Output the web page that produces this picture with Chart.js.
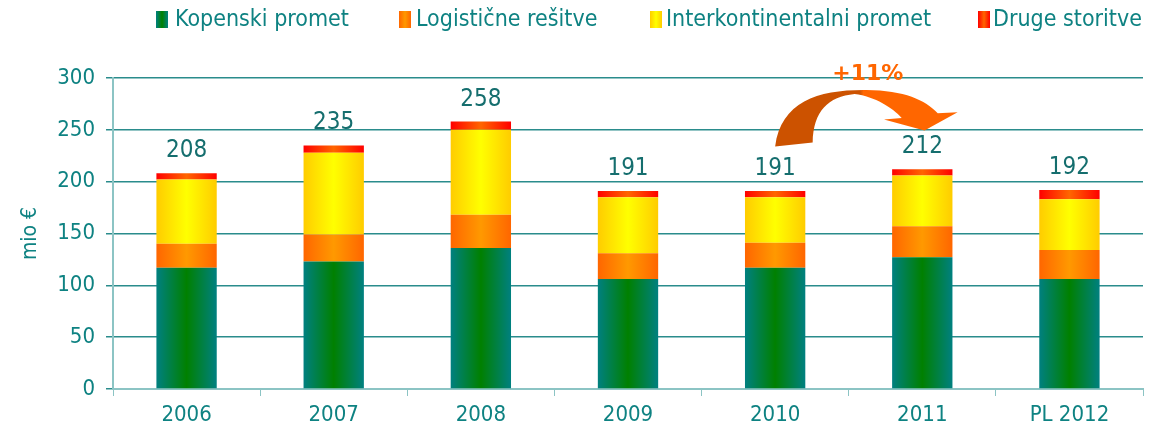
<!DOCTYPE html>
<html lang="sl">
<head>
<meta charset="UTF-8">
<title>Prihodki</title>
<script src="https://cdn.jsdelivr.net/npm/chart.js@4/dist/chart.umd.min.js"></script>
<style>
  html, body { margin: 0; padding: 0; background: #fff; }
  #wrap { width: 1164px; height: 436px; }
</style>
</head>
<body>
<div id="wrap"><canvas id="myChart" width="1164" height="436"></canvas></div>
<script>
// data (mio €)
const categories = ['2006', '2007', '2008', '2009', '2010', '2011', 'PL 2012'];
const kopenski = [117, 123, 136, 106, 117, 127, 106];
const logisticne = [23, 26, 32, 25, 24, 30, 28];
const interkontinentalni = [62, 79, 82, 54, 44, 49, 49];
const druge = [6, 7, 8, 6, 6, 6, 9];
const totals = [208, 235, 258, 191, 191, 212, 192];
const seriesNames = ['Kopenski promet', 'Logistične rešitve', 'Interkontinentalni promet', 'Druge storitve'];
const yTicks = [0, 50, 100, 150, 200, 250, 300];

const TEAL = '#0e8282';
const DARK_TEAL = '#156e6e';
const FONT = '"DejaVu Sans Condensed", "DejaVu Sans", sans-serif';
const BAR_FRAC = 0.41;

// edge / middle colours for the horizontal bar shading
const shades = [
    ['#008080', '#008000'],
    ['#ff6600', '#ff9900'],
    ['#ffcc00', '#ffff00'],
    ['#ff0000', '#ff6600'],
];

function barFill(i) {
    return function (ctx) {
        const chart = ctx.chart;
        const x = chart.scales.x;
        if (!x || !chart.chartArea) return shades[i][1];
        const c = x.getPixelForValue(ctx.dataIndex);
        const w = x.width / categories.length * BAR_FRAC;
        const g = chart.ctx.createLinearGradient(c - w / 2, 0, c + w / 2, 0);
        g.addColorStop(0, shades[i][0]);
        g.addColorStop(0.5, shades[i][1]);
        g.addColorStop(1, shades[i][0]);
        return g;
    };
}

const legendPlugin = {
    id: 'topLegend',
    afterDraw(chart) {
        const ctx = chart.ctx;
        const items = [
            { box: 156, text: 175 },
            { box: 399, text: 416 },
            { box: 650, text: 666 },
            { box: 978, text: 993 },
        ];
        ctx.save();
        ctx.font = '23px ' + FONT;
        ctx.textBaseline = 'middle';
        items.forEach((it, i) => {
            const g = ctx.createLinearGradient(it.box, 0, it.box + 12, 0);
            g.addColorStop(0, shades[i][0]);
            g.addColorStop(0.5, shades[i][1]);
            g.addColorStop(1, shades[i][0]);
            ctx.fillStyle = g;
            ctx.fillRect(it.box, 11, 12, 17);
            ctx.fillStyle = TEAL;
            ctx.fillText(seriesNames[i], it.text, 20);
        });
        ctx.restore();
    }
};

const totalsPlugin = {
    id: 'totals',
    afterDatasetsDraw(chart) {
        const ctx = chart.ctx;
        const x = chart.scales.x, y = chart.scales.y;
        ctx.save();
        ctx.font = '24px ' + FONT;
        ctx.fillStyle = DARK_TEAL;
        ctx.textAlign = 'center';
        ctx.textBaseline = 'alphabetic';
        totals.forEach((t, i) => {
            ctx.fillText(String(t), x.getPixelForValue(i), y.getPixelForValue(t) - 16);
        });
        ctx.restore();
    }
};

// curved "+11%" arrow from 2010 to 2011
const arrowPlugin = {
    id: 'growthArrow',
    afterDraw(chart) {
        const ctx = chart.ctx;
        const x = chart.scales.x, y = chart.scales.y;
        const cx = x.getPixelForValue(4);
        const dx = x.getPixelForValue(5) - cx;
        const P = (u, v) => [cx + u * dx, y.getPixelForValue(v)];
        ctx.save();
        const a = P(0, 0), b = P(1.25, 0);
        const g = ctx.createLinearGradient(a[0], 0, b[0], 0);
        g.addColorStop(0, '#cc5200');
        g.addColorStop(0.46, '#cc5200');
        g.addColorStop(0.48, '#ff6600');
        g.addColorStop(1, '#ff6600');
        ctx.fillStyle = g;
        ctx.beginPath();
        ctx.moveTo(...P(0, 233.9));
        ctx.bezierCurveTo(...P(0.04, 278), ...P(0.3, 289), ...P(0.62, 288.5));
        ctx.bezierCurveTo(...P(0.88, 288), ...P(1.02, 279), ...P(1.105, 266));
        ctx.lineTo(...P(1.24, 267));
        ctx.lineTo(...P(1.015, 249.3));
        ctx.lineTo(...P(0.74, 260));
        ctx.lineTo(...P(0.86, 261.5));
        ctx.bezierCurveTo(...P(0.8, 271), ...P(0.68, 282), ...P(0.54, 284.5));
        ctx.bezierCurveTo(...P(0.36, 282), ...P(0.26, 268), ...P(0.255, 237.7));
        ctx.closePath();
        ctx.fill();

        ctx.font = 'bold 22px "DejaVu Sans", sans-serif';
        ctx.fillStyle = '#ff6600';
        ctx.textAlign = 'center';
        ctx.textBaseline = 'alphabetic';
        ctx.fillText('+11%', ...P(0.63, 298.5));
        ctx.restore();
    }
};

const datasets = [kopenski, logisticne, interkontinentalni, druge].map((d, i) => ({
    label: seriesNames[i],
    data: d,
    backgroundColor: barFill(i),
    borderWidth: 0,
    barPercentage: BAR_FRAC,
    categoryPercentage: 1,
}));

new Chart(document.getElementById('myChart'), {
    type: 'bar',
    data: { labels: categories, datasets },
    plugins: [legendPlugin, totalsPlugin, arrowPlugin],
    options: {
        responsive: false,
        animation: false,
        layout: { padding: { top: 78, right: 21, left: 0, bottom: 0 } },
        plugins: {
            legend: { display: false },
            tooltip: { enabled: false },
        },
        scales: {
            x: {
                stacked: true,
                grid: {
                    drawOnChartArea: false,
                    drawTicks: true,
                    tickLength: 7,
                    color: '#8cc4c4',
                    offset: true,
                },
                border: { color: '#8cc4c4', width: 2 },
                ticks: {
                    color: TEAL,
                    font: { family: FONT, size: 22 },
                    padding: 6,
                    maxRotation: 0,
                },
                afterFit(scale) { scale.height = 47; },
            },
            y: {
                stacked: true,
                min: 0,
                max: 300,
                afterBuildTicks(scale) { scale.ticks = yTicks.map(v => ({ value: v })); },
                grid: {
                    color: '#2a8c8c',
                    lineWidth: 1.5,
                    tickLength: 7,
                },
                border: { color: '#8cc4c4', width: 2 },
                ticks: {
                    color: TEAL,
                    font: { family: FONT, size: 22 },
                    padding: 11,
                },
                title: {
                    display: true,
                    text: 'mio €',
                    color: TEAL,
                    font: { family: FONT, size: 21 },
                    padding: { top: 18, bottom: 4 },
                },
                afterFit(scale) { scale.width = 113; },
            },
        },
    },
});
</script>
</body>
</html>
